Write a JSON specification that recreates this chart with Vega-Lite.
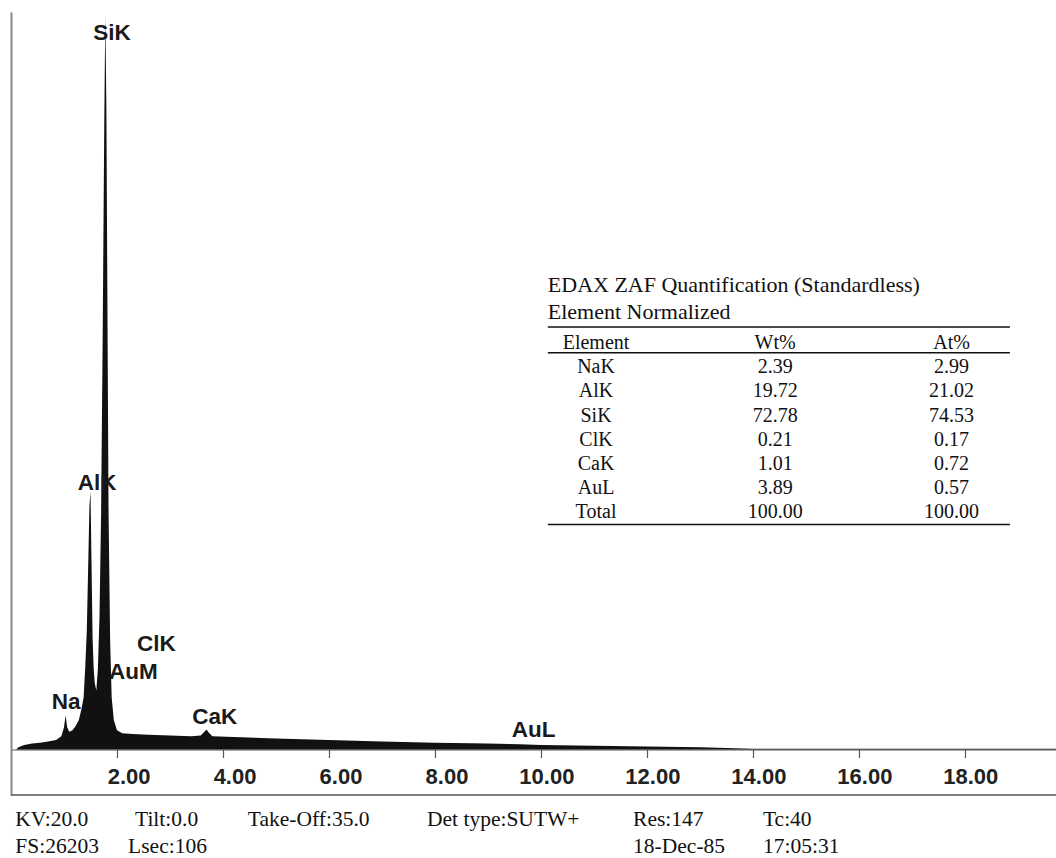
{
  "$schema": "https://vega.github.io/schema/vega-lite/v6.json",
  "width": 1045,
  "height": 783,
  "autosize": {"type": "none"},
  "padding": {"left": 11, "top": 12, "right": 0, "bottom": 63},
  "background": "white",
  "config": {"view": {"stroke": null}, "font": "Liberation Sans"},
  "datasets": {
    "spectrum": [
      {"keV": 0.10, "counts": 0}, {"keV": 0.14, "counts": 3}, {"keV": 0.25, "counts": 6},
      {"keV": 0.40, "counts": 8}, {"keV": 0.55, "counts": 9}, {"keV": 0.70, "counts": 11},
      {"keV": 0.85, "counts": 13}, {"keV": 0.95, "counts": 18}, {"keV": 1.00, "counts": 30},
      {"keV": 1.03, "counts": 46}, {"keV": 1.06, "counts": 30}, {"keV": 1.10, "counts": 24},
      {"keV": 1.16, "counts": 26}, {"keV": 1.22, "counts": 32}, {"keV": 1.28, "counts": 40},
      {"keV": 1.33, "counts": 55}, {"keV": 1.37, "counts": 70}, {"keV": 1.40, "counts": 110},
      {"keV": 1.43, "counts": 160}, {"keV": 1.46, "counts": 260}, {"keV": 1.48, "counts": 330},
      {"keV": 1.50, "counts": 350}, {"keV": 1.52, "counts": 250}, {"keV": 1.54, "counts": 150},
      {"keV": 1.56, "counts": 110}, {"keV": 1.58, "counts": 90}, {"keV": 1.61, "counts": 80},
      {"keV": 1.64, "counts": 110}, {"keV": 1.67, "counts": 180}, {"keV": 1.70, "counts": 320},
      {"keV": 1.73, "counts": 560}, {"keV": 1.76, "counts": 850}, {"keV": 1.78, "counts": 995},
      {"keV": 1.80, "counts": 870}, {"keV": 1.82, "counts": 600}, {"keV": 1.84, "counts": 330},
      {"keV": 1.87, "counts": 150}, {"keV": 1.90, "counts": 70}, {"keV": 1.94, "counts": 40},
      {"keV": 2.00, "counts": 26}, {"keV": 2.10, "counts": 22}, {"keV": 2.30, "counts": 21},
      {"keV": 2.60, "counts": 20}, {"keV": 3.00, "counts": 19}, {"keV": 3.40, "counts": 18},
      {"keV": 3.58, "counts": 19}, {"keV": 3.65, "counts": 24}, {"keV": 3.69, "counts": 27},
      {"keV": 3.73, "counts": 23}, {"keV": 3.80, "counts": 18}, {"keV": 4.20, "counts": 17},
      {"keV": 5.00, "counts": 15}, {"keV": 6.00, "counts": 13}, {"keV": 7.00, "counts": 11},
      {"keV": 8.00, "counts": 9}, {"keV": 9.00, "counts": 8}, {"keV": 9.60, "counts": 7},
      {"keV": 10.00, "counts": 6}, {"keV": 11.00, "counts": 5}, {"keV": 12.00, "counts": 4},
      {"keV": 13.00, "counts": 3}, {"keV": 13.50, "counts": 2}, {"keV": 14.00, "counts": 1},
      {"keV": 16.00, "counts": 1}, {"keV": 19.72, "counts": 1}
    ],
    "peaks": [
      {"label": "SiK", "keV": 1.55, "counts": 971},
      {"label": "AlK", "keV": 1.26, "counts": 362},
      {"label": "ClK", "keV": 2.38, "counts": 143},
      {"label": "AuM", "keV": 1.85, "counts": 105},
      {"label": "Na", "keV": 0.77, "counts": 64},
      {"label": "CaK", "keV": 3.42, "counts": 44},
      {"label": "AuL", "keV": 9.45, "counts": 27}
    ],
    "info": [
      {"label": "KV:20.0", "keV": 0.08, "counts": -103.7},
      {"label": "Tilt:0.0", "keV": 2.34, "counts": -103.7},
      {"label": "Take-Off:35.0", "keV": 4.47, "counts": -103.7},
      {"label": "Det type:SUTW+", "keV": 7.85, "counts": -103.7},
      {"label": "Res:147", "keV": 11.74, "counts": -103.7},
      {"label": "Tc:40", "keV": 14.19, "counts": -103.7},
      {"label": "FS:26203", "keV": 0.08, "counts": -140.3},
      {"label": "Lsec:106", "keV": 2.21, "counts": -140.3},
      {"label": "18-Dec-85", "keV": 11.74, "counts": -140.3},
      {"label": "17:05:31", "keV": 14.19, "counts": -140.3}
    ],
    "quant": [
      {"row": 0, "Element": "Element", "Wt": "Wt%", "At": "At%"},
      {"row": 1, "Element": "NaK", "Wt": "2.39", "At": "2.99"},
      {"row": 2, "Element": "AlK", "Wt": "19.72", "At": "21.02"},
      {"row": 3, "Element": "SiK", "Wt": "72.78", "At": "74.53"},
      {"row": 4, "Element": "ClK", "Wt": "0.21", "At": "0.17"},
      {"row": 5, "Element": "CaK", "Wt": "1.01", "At": "0.72"},
      {"row": 6, "Element": "AuL", "Wt": "3.89", "At": "0.57"},
      {"row": 7, "Element": "Total", "Wt": "100.00", "At": "100.00"}
    ],
    "tableTitle": [
      {"row": -2.4, "label": "EDAX ZAF Quantification (Standardless)"},
      {"row": -1.28, "label": "Element Normalized"}
    ],
    "tableRules": [
      {"row": -0.66}, {"row": 0.4}, {"row": 7.5}
    ]
  },
  "layer": [
    {
      "layer": [
        {
          "data": {"name": "spectrum"},
          "mark": {"type": "area", "color": "#111111", "interpolate": "linear"},
          "encoding": {
            "x": {
              "field": "keV", "type": "quantitative",
              "scale": {"domain": [0, 19.72], "nice": false, "zero": false},
              "axis": {
                "orient": "bottom", "offset": -45.5, "values": [2, 4, 6, 8, 10, 12, 14, 16, 18],
                "format": ".2f", "title": null, "grid": false,
                "domain": true, "domainColor": "#555555", "domainWidth": 1.2,
                "ticks": true, "tickSize": 8, "tickColor": "#555555", "tickWidth": 1.2,
                "labelFont": "Liberation Sans", "labelFontSize": 22, "labelFontWeight": "bold", "labelColor": "#222222",
                "labelAlign": "right", "labelOffset": 33, "labelBaseline": "middle", "labelPadding": 19,
                "labelFlush": false, "labelOverlap": false
              }
            },
            "y": {
              "field": "counts", "type": "quantitative",
              "scale": {"domain": [-61.7, 1000], "nice": false, "zero": false},
              "axis": {
                "orient": "left", "domain": true, "domainColor": "#888888", "domainWidth": 2,
                "ticks": false, "labels": false, "title": null, "grid": false
              }
            }
          }
        },
        {
          "data": {"name": "peaks"},
          "mark": {"type": "text", "font": "Liberation Sans", "fontSize": 22.5, "fontWeight": "bold", "align": "left", "baseline": "middle", "color": "#1a1a1a"},
          "encoding": {
            "x": {"field": "keV", "type": "quantitative"},
            "y": {"field": "counts", "type": "quantitative"},
            "text": {"field": "label"}
          }
        },
        {
          "data": {"values": [{}]},
          "mark": {"type": "rule", "color": "#555555", "strokeWidth": 1.5},
          "encoding": {"y": {"datum": -61.7, "type": "quantitative"}}
        },
        {
          "data": {"name": "info"},
          "mark": {"type": "text", "font": "Liberation Serif", "fontSize": 21.5, "align": "left", "baseline": "alphabetic", "color": "#111111"},
          "encoding": {
            "x": {"field": "keV", "type": "quantitative"},
            "y": {"field": "counts", "type": "quantitative"},
            "text": {"field": "label"}
          }
        }
      ]
    },
    {
      "encoding": {
        "y": {
          "field": "row", "type": "quantitative",
          "scale": {"domain": [-13.68, 18.68], "reverse": true, "nice": false, "zero": false},
          "axis": null
        }
      },
      "layer": [
        {
          "data": {"name": "quant"},
          "mark": {"type": "text", "font": "Liberation Serif", "fontSize": 20, "align": "center", "baseline": "middle", "color": "#111111"},
          "encoding": {"x": {"datum": 11.04, "type": "quantitative"}, "text": {"field": "Element"}}
        },
        {
          "data": {"name": "quant"},
          "mark": {"type": "text", "font": "Liberation Serif", "fontSize": 20, "align": "center", "baseline": "middle", "color": "#111111"},
          "encoding": {"x": {"datum": 14.42, "type": "quantitative"}, "text": {"field": "Wt"}}
        },
        {
          "data": {"name": "quant"},
          "mark": {"type": "text", "font": "Liberation Serif", "fontSize": 20, "align": "center", "baseline": "middle", "color": "#111111"},
          "encoding": {"x": {"datum": 17.75, "type": "quantitative"}, "text": {"field": "At"}}
        },
        {
          "data": {"name": "tableTitle"},
          "mark": {"type": "text", "font": "Liberation Serif", "fontSize": 22, "align": "left", "baseline": "middle", "color": "#111111"},
          "encoding": {"x": {"datum": 10.13, "type": "quantitative"}, "text": {"field": "label"}}
        },
        {
          "data": {"name": "tableRules"},
          "mark": {"type": "rule", "color": "#111111", "strokeWidth": 1.6},
          "encoding": {"x": {"datum": 10.13, "type": "quantitative"}, "x2": {"datum": 18.85}}
        }
      ]
    }
  ],
  "resolve": {"scale": {"y": "independent"}}
}
